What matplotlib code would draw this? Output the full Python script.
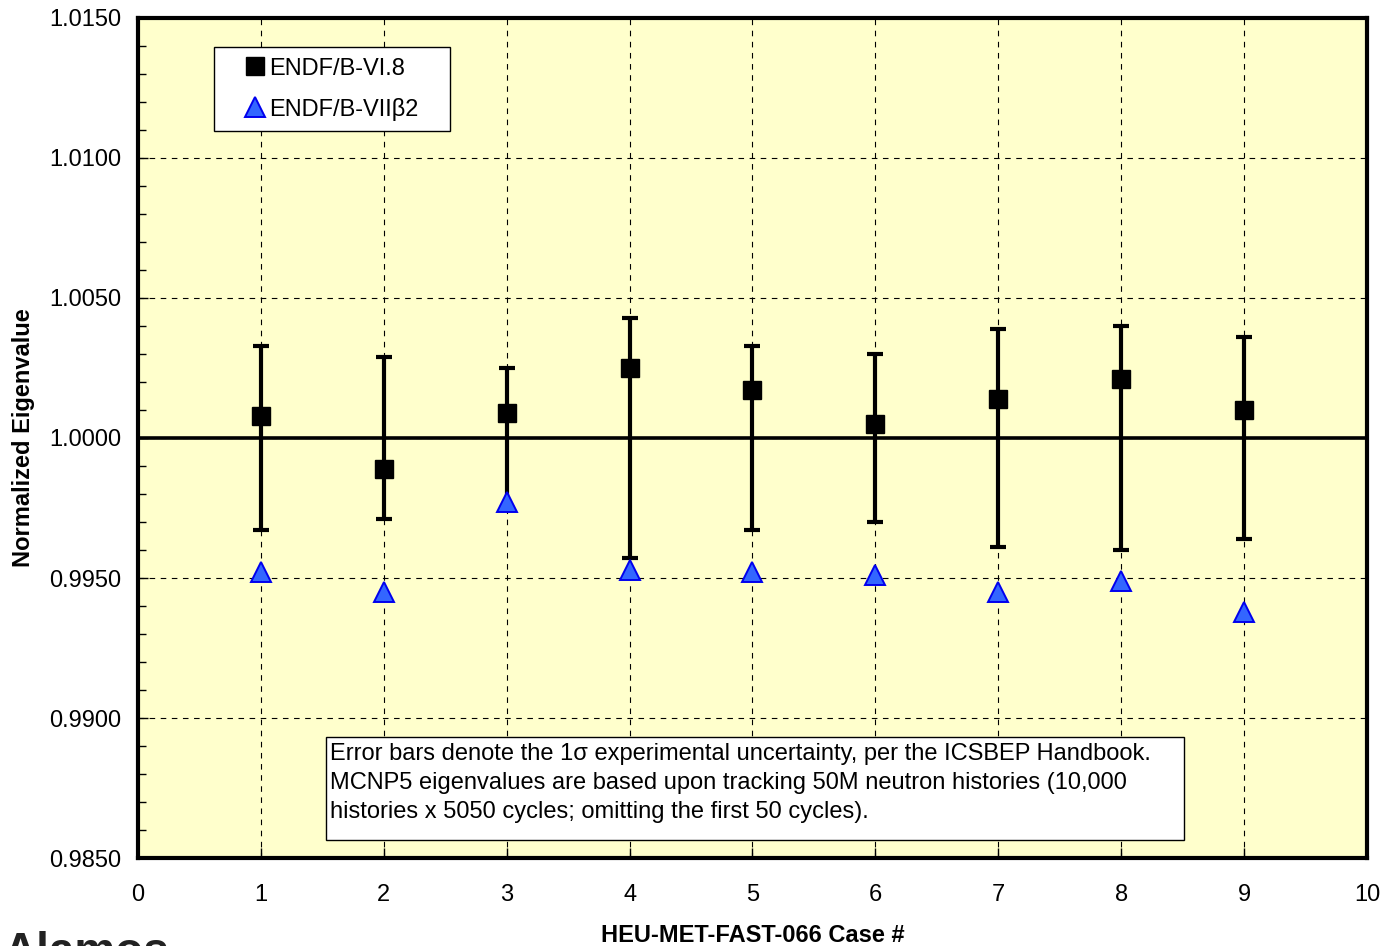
import numpy as np
import matplotlib.pyplot as plt
from matplotlib.patches import Rectangle

plt.rcParams['font.family'] = ['Liberation Sans', 'DejaVu Sans']

# HEU-MET-FAST-066 cases
cases = [1, 2, 3, 4, 5, 6, 7, 8, 9]

# ENDF/B-VI.8 normalized eigenvalues
keff_vi8 = [1.0008, 0.9989, 1.0009, 1.0025, 1.0017, 1.0005, 1.0014, 1.0021, 1.0010]

# ENDF/B-VIIb2 normalized eigenvalues
keff_vii = [0.9952, 0.9945, 0.9977, 0.9953, 0.9952, 0.9951, 0.9945, 0.9949, 0.9938]

# 1-sigma experimental uncertainty (centered on 1.0)
exp_unc = [0.0033, 0.0029, 0.0025, 0.0043, 0.0033, 0.0030, 0.0039, 0.0040, 0.0036]

yticks = [0.9850, 0.9900, 0.9950, 1.0000, 1.0050, 1.0100, 1.0150]

note = ("Error bars denote the 1\u03c3 experimental uncertainty, per the ICSBEP Handbook.\n"
        "MCNP5 eigenvalues are based upon tracking 50M neutron histories (10,000\n"
        "histories x 5050 cycles; omitting the first 50 cycles).")

fs = 17

fig = plt.figure(figsize=(13.83, 9.46), dpi=100)
ax = fig.add_axes([0.0998, 0.093, 0.8886, 0.888])
ax.set_facecolor('#ffffcc')

# grid
ax.grid(True, which='major', color='black', linestyle=(0, (5, 5)), linewidth=0.8)
ax.set_axisbelow(True)

# reference line
ax.axhline(1.0, color='black', linewidth=2.6, zorder=2)

# experimental error bars
ax.errorbar(cases, np.ones(len(cases)), yerr=exp_unc, fmt='none', ecolor='black',
            elinewidth=3, capsize=6, capthick=3, zorder=3)

ax.plot(cases, keff_vi8, linestyle='none', marker='s', markersize=13,
        color='black', label='ENDF/B-VI.8', zorder=4)
ax.plot(cases, keff_vii, linestyle='none', marker='^', markersize=14,
        markerfacecolor='#3366ff', markeredgecolor='#0000ee', markeredgewidth=1.4,
        label='ENDF/B-VII\u03b22', zorder=4)

ax.set_xlim(0, 10)
ax.set_ylim(0.9850, 1.0150)
ax.set_xticks(range(0, 11))
ax.set_yticks(yticks)
ax.set_yticklabels(['%.4f' % v for v in yticks])
ax.set_yticks(np.arange(0.9850, 1.01501, 0.001), minor=True)
ax.tick_params(axis='both', which='both', direction='in', labelsize=fs)
ax.tick_params(axis='y', which='major', length=7, width=1, pad=12)
ax.tick_params(axis='y', which='minor', length=6, width=1)
ax.tick_params(axis='x', which='major', length=7, width=1, pad=18.5)

for s in ax.spines.values():
    s.set_linewidth(3)

ax.set_xlabel('HEU-MET-FAST-066 Case #', fontsize=fs, fontweight='bold', labelpad=13)
ax.set_ylabel('Normalized Eigenvalue', fontsize=fs, fontweight='bold', labelpad=10)

leg = ax.legend(loc='upper left', bbox_to_anchor=(0.0618, 0.8655, 0.192, 0.1),
                mode='expand', fontsize=fs, frameon=True, fancybox=False,
                edgecolor='black', framealpha=1, handletextpad=-0.7,
                handlelength=2.58, borderpad=0.45, labelspacing=0.77,
                borderaxespad=0)
leg.get_frame().set_linewidth(1)

# note box
ax.add_patch(Rectangle((0.153, 0.0214), 0.698, 0.1226, transform=ax.transAxes,
                       facecolor='white', edgecolor='black', linewidth=1, zorder=5))
ax.text(0.156, 0.137, note, transform=ax.transAxes, fontsize=fs, va='top',
        ha='left', linespacing=1.42, zorder=6)

# partial logo text cut off at bottom
fig.text(0.003, 1 - 931 / 946, 'Alamos', fontsize=33, fontweight='bold',
         color='#222222', va='top', ha='left')

fig.savefig('out.png', dpi=100)
